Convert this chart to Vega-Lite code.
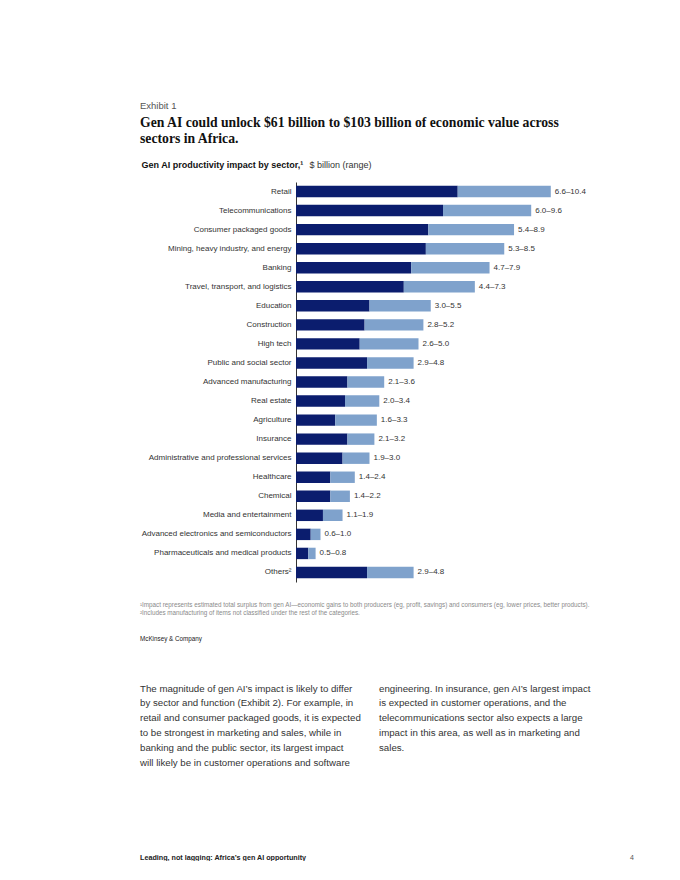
{
  "$schema": "https://vega.github.io/schema/vega-lite/v6.json",
  "background": "white",
  "padding": {"left": 140, "top": 100, "right": 0, "bottom": 0},
  "title": {
    "text": "Exhibit 1",
    "subtitle": ["Gen AI could unlock $61 billion to $103 billion of economic value across", "sectors in Africa."],
    "anchor": "start",
    "font": "Liberation Sans",
    "fontSize": 9.5,
    "fontWeight": "normal",
    "color": "#555555",
    "subtitleFont": "Liberation Serif",
    "subtitleFontSize": 13.7,
    "subtitleFontWeight": "bold",
    "subtitleColor": "#111111",
    "subtitleLineHeight": 16,
    "subtitlePadding": 6,
    "offset": 14
  },
  "columns": 1,
  "align": "none",
  "spacing": 40.5,
  "concat": [
    {
      "columns": 1,
      "align": "none",
      "spacing": 19.5,
      "concat": [
        {
          "spacing": 0,
          "hconcat": [
            {
              "width": 1,
              "height": 1,
              "data": {"values": [{}]},
              "mark": {"type": "text", "text": ""},
              "encoding": {}
            },
            {
              "width": 294,
              "height": 400,
              "data": {
                "values": [
                  {"sector": "Retail", "low": 6.6, "high": 10.4, "range": "6.6–10.4"},
                  {"sector": "Telecommunications", "low": 6.0, "high": 9.6, "range": "6.0–9.6"},
                  {"sector": "Consumer packaged goods", "low": 5.4, "high": 8.9, "range": "5.4–8.9"},
                  {"sector": "Mining, heavy industry, and energy", "low": 5.3, "high": 8.5, "range": "5.3–8.5"},
                  {"sector": "Banking", "low": 4.7, "high": 7.9, "range": "4.7–7.9"},
                  {"sector": "Travel, transport, and logistics", "low": 4.4, "high": 7.3, "range": "4.4–7.3"},
                  {"sector": "Education", "low": 3.0, "high": 5.5, "range": "3.0–5.5"},
                  {"sector": "Construction", "low": 2.8, "high": 5.2, "range": "2.8–5.2"},
                  {"sector": "High tech", "low": 2.6, "high": 5.0, "range": "2.6–5.0"},
                  {"sector": "Public and social sector", "low": 2.9, "high": 4.8, "range": "2.9–4.8"},
                  {"sector": "Advanced manufacturing", "low": 2.1, "high": 3.6, "range": "2.1–3.6"},
                  {"sector": "Real estate", "low": 2.0, "high": 3.4, "range": "2.0–3.4"},
                  {"sector": "Agriculture", "low": 1.6, "high": 3.3, "range": "1.6–3.3"},
                  {"sector": "Insurance", "low": 2.1, "high": 3.2, "range": "2.1–3.2"},
                  {"sector": "Administrative and professional services", "low": 1.9, "high": 3.0, "range": "1.9–3.0"},
                  {"sector": "Healthcare", "low": 1.4, "high": 2.4, "range": "1.4–2.4"},
                  {"sector": "Chemical", "low": 1.4, "high": 2.2, "range": "1.4–2.2"},
                  {"sector": "Media and entertainment", "low": 1.1, "high": 1.9, "range": "1.1–1.9"},
                  {"sector": "Advanced electronics and semiconductors", "low": 0.6, "high": 1.0, "range": "0.6–1.0"},
                  {"sector": "Pharmaceuticals and medical products", "low": 0.5, "high": 0.8, "range": "0.5–0.8"},
                  {"sector": "Others²", "low": 2.9, "high": 4.8, "range": "2.9–4.8"}
                ]
              },
              "encoding": {
                "y": {
                  "field": "sector",
                  "type": "nominal",
                  "sort": null,
                  "scale": {"paddingInner": 0.4, "paddingOuter": 0.2},
                  "axis": {
                    "title": "Gen AI productivity impact by sector,¹",
                    "titleAngle": 0,
                    "titleAlign": "left",
                    "titleBaseline": "alphabetic",
                    "titleX": -155,
                    "titleY": -15,
                    "titleFont": "Liberation Sans",
                    "titleFontSize": 9,
                    "titleFontWeight": "bold",
                    "titleColor": "#111111",
                    "ticks": false,
                    "labelPadding": 5,
                    "labelFont": "Liberation Sans",
                    "labelFontSize": 8,
                    "labelColor": "#333333",
                    "labelLimit": 300,
                    "domainColor": "#333333",
                    "domainWidth": 1
                  }
                }
              },
              "layer": [
                {
                  "mark": {"type": "bar", "color": "#0b1d6e"},
                  "encoding": {
                    "x": {
                      "field": "low",
                      "type": "quantitative",
                      "scale": {"domain": [0, 12]},
                      "axis": {"orient": "top", "title": "$ billion (range)", "labels": false, "ticks": false, "domain": false, "grid": false, "titleX": 13, "titleY": -15, "titleAlign": "left", "titleBaseline": "alphabetic", "titleAngle": 0, "titleFont": "Liberation Sans", "titleFontSize": 9, "titleFontWeight": "normal", "titleColor": "#333333"}
                    }
                  }
                },
                {
                  "mark": {"type": "bar", "color": "#7fa2cc"},
                  "encoding": {
                    "x": {
                      "field": "low",
                      "type": "quantitative",
                      "scale": {"domain": [0, 12]},
                      "axis": {"orient": "top", "title": "$ billion (range)", "labels": false, "ticks": false, "domain": false, "grid": false, "titleX": 13, "titleY": -15, "titleAlign": "left", "titleBaseline": "alphabetic", "titleAngle": 0, "titleFont": "Liberation Sans", "titleFontSize": 9, "titleFontWeight": "normal", "titleColor": "#333333"}
                    },
                    "x2": {"field": "high"}
                  }
                },
                {
                  "mark": {"type": "text", "align": "left", "baseline": "middle", "dx": 4, "font": "Liberation Sans", "fontSize": 8, "color": "#333333"},
                  "encoding": {
                    "x": {
                      "field": "high",
                      "type": "quantitative",
                      "scale": {"domain": [0, 12]},
                      "axis": {"orient": "top", "title": "$ billion (range)", "labels": false, "ticks": false, "domain": false, "grid": false, "titleX": 13, "titleY": -15, "titleAlign": "left", "titleBaseline": "alphabetic", "titleAngle": 0, "titleFont": "Liberation Sans", "titleFontSize": 9, "titleFontWeight": "normal", "titleColor": "#333333"}
                    },
                    "text": {"field": "range"}
                  }
                }
              ]
            }
          ]
        },
        {
          "width": 470,
          "height": 8.3,
          "data": {
            "values": [
              {"line": 1, "col": 1, "text": "¹Impact represents estimated total surplus from gen AI—economic gains to both producers (eg, profit, savings) and consumers (eg, lower prices, better products)."},
              {"line": 2, "col": 1, "text": "²Includes manufacturing of items not classified under the rest of the categories."}
            ]
          },
          "mark": {"type": "text", "align": "left", "baseline": "alphabetic", "font": "Liberation Sans", "fontSize": 6.3, "color": "#8a8a8a"},
          "encoding": {
            "x": {"field": "col", "type": "ordinal", "scale": {"padding": 0, "align": 0}, "axis": null},
            "y": {"field": "line", "type": "ordinal", "scale": {"padding": 0, "align": 0}, "axis": null},
            "text": {"field": "text"}
          }
        },
        {
          "width": 100,
          "height": 1,
          "data": {"values": [{"line": 1, "col": 1, "text": "McKinsey & Company"}]},
          "mark": {"type": "text", "align": "left", "baseline": "alphabetic", "font": "Liberation Sans", "fontSize": 6.3, "color": "#222222"},
          "encoding": {
            "x": {"field": "col", "type": "ordinal", "scale": {"padding": 0, "align": 0}, "axis": null},
            "y": {"field": "line", "type": "ordinal", "scale": {"padding": 0, "align": 0}, "axis": null},
            "text": {"field": "text"}
          }
        }
      ]
    },
    {
      "columns": 1,
      "align": "none",
      "spacing": 86,
      "concat": [
        {
          "width": 239,
          "height": 74,
          "data": {
            "values": [
              {"col": 1, "line": 1, "text": "The magnitude of gen AI’s impact is likely to differ"},
              {"col": 1, "line": 2, "text": "by sector and function (Exhibit 2). For example, in"},
              {"col": 1, "line": 3, "text": "retail and consumer packaged goods, it is expected"},
              {"col": 1, "line": 4, "text": "to be strongest in marketing and sales, while in"},
              {"col": 1, "line": 5, "text": "banking and the public sector, its largest impact"},
              {"col": 1, "line": 6, "text": "will likely be in customer operations and software"},
              {"col": 2, "line": 1, "text": "engineering. In insurance, gen AI’s largest impact"},
              {"col": 2, "line": 2, "text": "is expected in customer operations, and the"},
              {"col": 2, "line": 3, "text": "telecommunications sector also expects a large"},
              {"col": 2, "line": 4, "text": "impact in this area, as well as in marketing and"},
              {"col": 2, "line": 5, "text": "sales."}
            ]
          },
          "mark": {"type": "text", "align": "left", "baseline": "alphabetic", "font": "Liberation Sans", "fontSize": 9.7, "color": "#333333"},
          "encoding": {
            "x": {"field": "col", "type": "ordinal", "scale": {"padding": 0, "align": 0}, "axis": null},
            "y": {"field": "line", "type": "ordinal", "scale": {"padding": 0, "align": 0}, "axis": null},
            "text": {"field": "text"}
          }
        },
        {
          "width": 490,
          "height": 1,
          "encoding": {
            "x": {"field": "col", "type": "ordinal", "scale": {"padding": 0, "align": 0}, "axis": null},
            "y": {"field": "line", "type": "ordinal", "scale": {"padding": 0, "align": 0}, "axis": null},
            "text": {"field": "text"}
          },
          "layer": [
            {
              "data": {"values": [{"col": 1, "line": 1, "text": "Leading, not lagging: Africa’s gen AI opportunity"}]},
              "mark": {"type": "text", "align": "left", "baseline": "alphabetic", "font": "Liberation Sans", "fontSize": 7.2, "fontWeight": "bold", "color": "#222222"}
            },
            {
              "data": {"values": [{"col": 2, "line": 1, "text": "4"}]},
              "mark": {"type": "text", "align": "left", "baseline": "alphabetic", "font": "Liberation Sans", "fontSize": 7, "color": "#555555"}
            }
          ]
        }
      ]
    }
  ],
  "config": {"view": {"stroke": null}, "font": "Liberation Sans"}
}
